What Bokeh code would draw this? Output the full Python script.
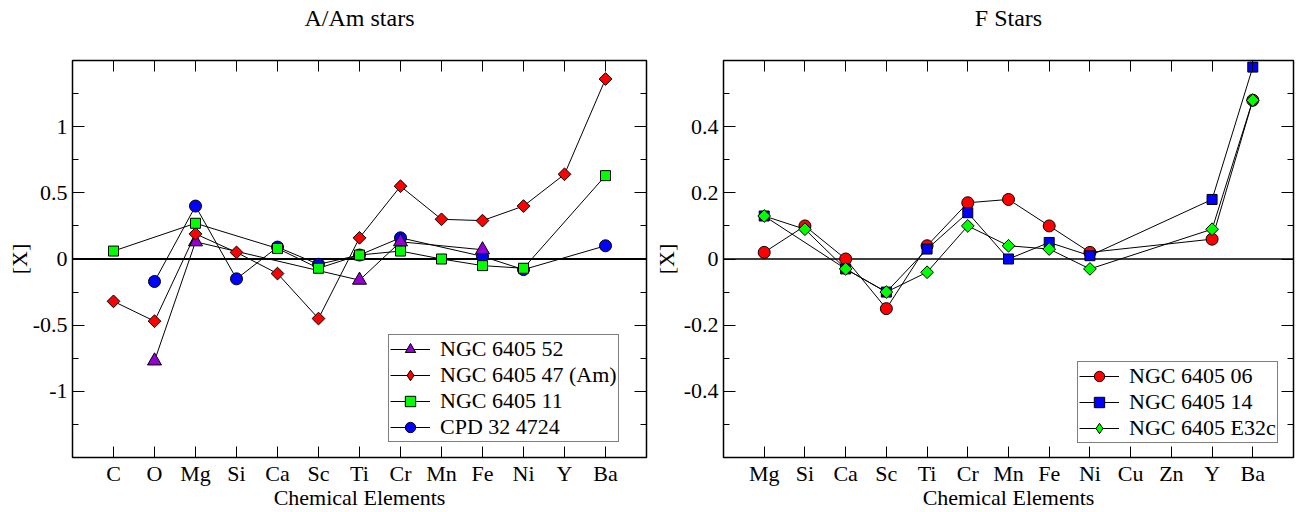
import math
from bokeh.plotting import figure
from bokeh.layouts import row
from bokeh.models import (LinearAxis, FixedTicker, Range1d, Span, Legend, LegendItem,
                          CustomLabelingPolicy)
from bokeh.embed import file_html
from bokeh.resources import INLINE

FONT = "Liberation Serif"

# ---------------- data: left panel (A/Am stars) ----------------
left_elements = ["C", "O", "Mg", "Si", "Ca", "Sc", "Ti", "Cr", "Mn", "Fe", "Ni", "Y", "Ba"]

ngc52_el = ["O", "Mg", "Ti", "Cr", "Fe"]
ngc52_val = [-0.77, 0.13, -0.16, 0.13, 0.07]

ngc47_el = ["C", "O", "Mg", "Si", "Ca", "Sc", "Ti", "Cr", "Mn", "Fe", "Ni", "Y", "Ba"]
ngc47_val = [-0.32, -0.47, 0.19, 0.05, -0.11, -0.45, 0.16, 0.55, 0.30, 0.29, 0.40, 0.64, 1.36]

ngc11_el = ["C", "Mg", "Ca", "Sc", "Ti", "Cr", "Mn", "Fe", "Ni", "Ba"]
ngc11_val = [0.06, 0.27, 0.08, -0.07, 0.03, 0.06, 0.00, -0.05, -0.07, 0.63]

cpd_el = ["O", "Mg", "Si", "Ca", "Sc", "Ti", "Cr", "Fe", "Ni", "Ba"]
cpd_val = [-0.17, 0.40, -0.15, 0.09, -0.04, 0.03, 0.16, 0.02, -0.08, 0.10]

left_yticks = [-1, -0.5, 0, 0.5, 1]
left_yminor = [-1.25, -0.75, -0.25, 0.25, 0.75, 1.25]

# ---------------- data: right panel (F stars) ----------------
right_elements = ["Mg", "Si", "Ca", "Sc", "Ti", "Cr", "Mn", "Fe", "Ni", "Cu", "Zn", "Y", "Ba"]

ngc06_el = ["Mg", "Si", "Ca", "Sc", "Ti", "Cr", "Mn", "Fe", "Ni", "Y", "Ba"]
ngc06_val = [0.02, 0.10, 0.00, -0.15, 0.04, 0.17, 0.18, 0.10, 0.02, 0.06, 0.48]

ngc14_el = ["Mg", "Ca", "Sc", "Ti", "Cr", "Mn", "Fe", "Ni", "Y", "Ba"]
ngc14_val = [0.13, -0.03, -0.10, 0.03, 0.14, 0.00, 0.05, 0.01, 0.18, 0.58]

e32c_el = ["Mg", "Si", "Ca", "Sc", "Ti", "Cr", "Mn", "Fe", "Ni", "Y", "Ba"]
e32c_val = [0.13, 0.09, -0.03, -0.10, -0.04, 0.10, 0.04, 0.03, -0.03, 0.09, 0.48]

right_yticks = [-0.4, -0.2, 0, 0.2, 0.4]
right_yminor = [-0.5, -0.3, -0.1, 0.1, 0.3, 0.5]


def style_axis(ax, tick_in, minor_in, show_labels):
    ax.axis_line_color = None
    ax.major_tick_in = tick_in
    ax.major_tick_out = 0
    ax.minor_tick_in = minor_in
    ax.minor_tick_out = 0
    ax.major_tick_line_color = "black"
    ax.minor_tick_line_color = "black"
    ax.major_label_text_font = FONT
    ax.major_label_text_color = "black"
    ax.axis_label_text_font = FONT
    ax.axis_label_text_font_size = "22px"
    ax.axis_label_text_font_style = "normal"
    ax.axis_label_text_color = "black"
    if show_labels:
        ax.major_label_text_font_size = "22px"
    else:
        # mirrored ticks only: no tick labels drawn
        ax.major_label_text_font_size = "0px"
        ax.major_label_standoff = 0
        ax.major_label_policy = CustomLabelingPolicy(code="return new Set()")


def make_panel(title, elements, yr, yticks, yminor, zero_w, mb_left, mb_right, width,
               ylabel_standoff):
    n = len(elements)
    p = figure(width=width, height=512, x_range=Range1d(0, n + 1), y_range=Range1d(-yr, yr),
               title=None, output_backend="svg", toolbar_location=None,
               min_border_left=mb_left, min_border_right=mb_right,
               min_border_top=60, min_border_bottom=52,
               x_axis_type=None, y_axis_type=None)
    p.background_fill_color = "white"
    p.border_fill_color = "white"
    p.outline_line_color = "black"
    p.outline_line_width = 1.5
    p.xgrid.visible = False
    p.ygrid.visible = False

    xt = FixedTicker(ticks=list(range(1, n + 1)), minor_ticks=[])
    xlabels = {i + 1: e for i, e in enumerate(elements)}
    yt = FixedTicker(ticks=yticks, minor_ticks=yminor)
    ylabels = {v: f"{v:g}" for v in yticks}

    bottom = LinearAxis(ticker=xt, major_label_overrides=xlabels, axis_label="Chemical Elements")
    style_axis(bottom, 11, 0, True)
    bottom.major_label_standoff = 3
    bottom.axis_label_standoff = -4
    p.add_layout(bottom, "below")

    # top axis: mirrored ticks, carries the panel title as its label
    top = LinearAxis(ticker=xt, axis_label=title)
    style_axis(top, 11, 0, False)
    top.axis_label_text_font_size = "24px"
    top.axis_label_standoff = 30
    p.add_layout(top, "above")

    left = LinearAxis(ticker=yt, major_label_overrides=ylabels, axis_label="[X]")
    style_axis(left, 12, 6, True)
    left.major_label_standoff = 5
    left.axis_label_standoff = ylabel_standoff
    p.add_layout(left, "left")

    right = LinearAxis(ticker=yt)
    style_axis(right, 12, 6, False)
    p.add_layout(right, "right")

    p.add_layout(Span(location=0, dimension="width", line_color="black",
                      line_width=zero_w, level="underlay"))
    return p


def series(p, elements, els, vals, marker, color, size, angle=0.0):
    xs = [elements.index(e) + 1 for e in els]
    ln = p.line(xs, vals, line_color="black", line_width=1)
    sc = p.scatter(xs, vals, marker=marker, size=size, angle=angle,
                   fill_color=color, line_color="black", line_width=1)
    if angle:
        # legend swatch only (legend icons ignore the marker angle): a diamond with no visible point
        icon = p.scatter([math.nan], [math.nan], marker="diamond", size=size,
                         fill_color=color, line_color="black", line_width=1)
        return [ln, icon]
    return [ln, sc]


def add_legend(p, items, loc):
    lg = Legend(items=items, location=loc, margin=0, padding=1, spacing=0,
                glyph_width=40, glyph_height=26, label_height=20, label_standoff=10,
                label_text_font=FONT, label_text_font_size="22px", label_text_color="black",
                border_line_color="black", border_line_width=1,
                background_fill_color="white", background_fill_alpha=1.0)
    p.add_layout(lg)


# ---------------- left panel ----------------
p1 = make_panel("A/Am stars", left_elements, 1.5, left_yticks, left_yminor, 1.8,
                72, 4, 650, -2)
r_cpd = series(p1, left_elements, cpd_el, cpd_val, "circle", "#0000ff", 12)
r_52 = series(p1, left_elements, ngc52_el, ngc52_val, "triangle", "#9400d3", 14)
r_47 = series(p1, left_elements, ngc47_el, ngc47_val, "square", "#ff0000", 9, math.pi / 4)
r_11 = series(p1, left_elements, ngc11_el, ngc11_val, "square", "#00ff00", 10)
add_legend(p1, [
    LegendItem(label="NGC 6405 52", renderers=r_52),
    LegendItem(label="NGC 6405 47 (Am)", renderers=r_47),
    LegendItem(label="NGC 6405 11", renderers=r_11),
    LegendItem(label="CPD 32 4724", renderers=r_cpd),
], (316, 15))

# ---------------- right panel ----------------
p2 = make_panel("F Stars", right_elements, 0.6, right_yticks, right_yminor, 1.3,
                69, 5, 648, 2)
r_06 = series(p2, right_elements, ngc06_el, ngc06_val, "circle", "#ff0000", 12)
r_14 = series(p2, right_elements, ngc14_el, ngc14_val, "square", "#0000ff", 10)
r_e32 = series(p2, right_elements, e32c_el, e32c_val, "square", "#00ff00", 9, math.pi / 4)
add_legend(p2, [
    LegendItem(label="NGC 6405 06", renderers=r_06),
    LegendItem(label="NGC 6405 14", renderers=r_14),
    LegendItem(label="NGC 6405 E32c", renderers=r_e32),
], (354, 14))

layout = row(p1, p2)
open("out.html", "w").write(file_html(layout, INLINE))
